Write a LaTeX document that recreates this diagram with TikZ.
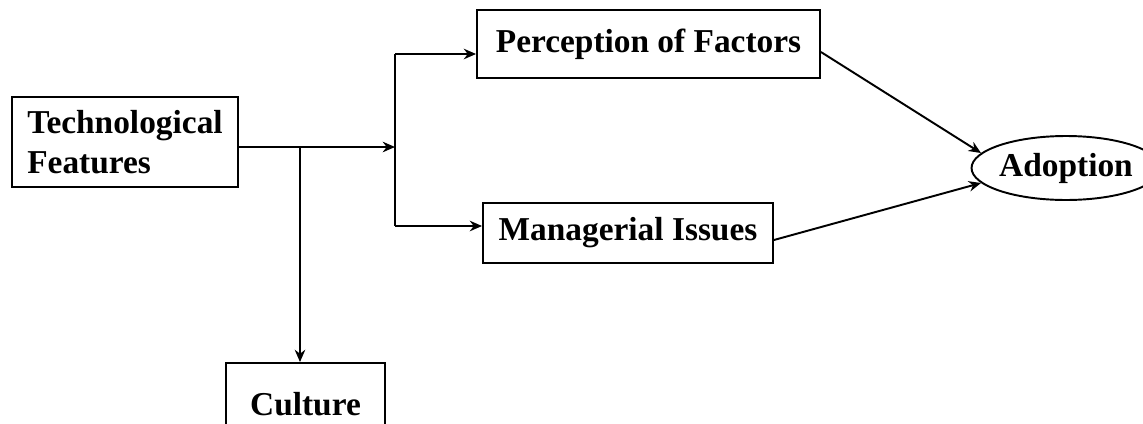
\documentclass[tikz,border=0pt]{standalone}
\usepackage{fontspec}
\setmainfont{Liberation Serif}
\usetikzlibrary{positioning,calc,arrows.meta,shapes.geometric}

\begin{document}
\begin{tikzpicture}[
    x=0.02cm, y=-0.02cm,
    box/.style={draw, line width=1.1pt, inner sep=0pt, align=left, font=\fontsize{19}{23}\selectfont\bfseries},
    oval/.style={box, ellipse, align=center},
    conn/.style={line width=1.1pt},
    arr/.style={conn, -{Stealth[length=7pt,width=6pt]}}
]

\useasboundingbox (0,0) rectangle (1143,423);

% Left column
\node[box, minimum width=4.52cm, minimum height=1.8cm] (tech) at (125,142) {Technological\\Features};
\node[box, minimum width=3.18cm, minimum height=1.64cm] (cult) at (305.5,404) {Culture};

% Middle column
\node[box, minimum width=6.86cm, minimum height=1.36cm] (perc) at (648.5,44) {Perception of Factors};
\node[box, minimum width=5.8cm, minimum height=1.2cm] (mgr) at (628,233) {Managerial Issues};

% Right
\node[oval, minimum width=2.96cm, minimum height=1.28cm] (adopt) at (1066,168) {Adoption};

% Arrows
\coordinate (split) at (395,147);
\coordinate (branch) at (300,147);
\coordinate (ptop) at (395,54);
\coordinate (pbot) at (395,226);

\draw[arr] (tech.east |- split) -- (split);
\draw[arr] (branch) -- (branch |- cult.north);
\draw[conn] (ptop) -- (pbot);
\draw[arr] (ptop) -- (perc.west |- ptop);
\draw[arr] (pbot) -- (mgr.west |- pbot);
\draw[arr] ($(perc.east)+(0,8)$) -- (adopt.170);
\draw[arr] ($(mgr.east)+(0,7)$) -- (adopt.190);

\end{tikzpicture}
\end{document}
